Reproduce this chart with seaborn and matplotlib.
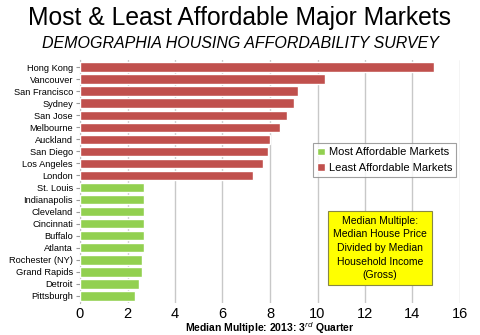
import matplotlib
matplotlib.use("Agg")
import matplotlib.pyplot as plt
import seaborn as sns
import pandas as pd

least_cities = ["Hong Kong", "Vancouver", "San Francisco", "Sydney", "San Jose",
                "Melbourne", "Auckland", "San Diego", "Los Angeles", "London"]
least_values = [14.9, 10.3, 9.2, 9.0, 8.7, 8.4, 8.0, 7.9, 7.7, 7.3]
most_cities = ["St. Louis", "Indianapolis", "Cleveland", "Cincinnati", "Buffalo",
               "Atlanta", "Rochester (NY)", "Grand Rapids", "Detroit", "Pittsburgh"]
most_values = [2.7, 2.7, 2.7, 2.7, 2.7, 2.7, 2.6, 2.6, 2.5, 2.3]
x_ticks = [0, 2, 4, 6, 8, 10, 12, 14, 16]

df = pd.DataFrame({
    "city": least_cities + most_cities,
    "value": least_values + most_values,
    "group": ["Least Affordable Markets"] * len(least_cities) + ["Most Affordable Markets"] * len(most_cities),
})

sns.set_style("white")
plt.rcParams["font.family"] = ["Liberation Sans", "DejaVu Sans"]
plt.rcParams["text.color"] = "black"
plt.rcParams["xtick.color"] = "black"
plt.rcParams["ytick.color"] = "black"
plt.rcParams["xtick.labelcolor"] = "black"
plt.rcParams["ytick.labelcolor"] = "black"

fig = plt.figure(figsize=(4.8, 3.35), dpi=100)
ax = fig.add_axes([80 / 480, 1 - 303 / 335, 380 / 480, 243 / 335])

palette = {"Most Affordable Markets": "#92D050", "Least Affordable Markets": "#C0504D"}
sns.barplot(data=df, x="value", y="city", hue="group", hue_order=["Most Affordable Markets", "Least Affordable Markets"],
            palette=palette, dodge=False, width=0.8, ax=ax, legend=True, saturation=1, zorder=3)

ax.set_xlim(0, 16)
ax.set_ylim(19.6, -0.6)
ax.set_xticks(x_ticks)
ax.set_xticklabels([str(t) for t in x_ticks], fontsize=10.5)
ax.tick_params(axis="x", length=0, pad=3)
ax.tick_params(axis="y", length=3, color="#999999", labelsize=6.7, pad=2, left=True)
ax.grid(axis="x", color="#C8C8C8", linewidth=1, zorder=0)
for s in ["top", "right"]:
    ax.spines[s].set_visible(False)
ax.spines["left"].set_color("#BBBBBB")
ax.spines["bottom"].set_visible(False)
ax.set_ylabel("")
ax.set_xlabel("")
fig.text(270 / 480, 1 - 328.5 / 335, "Median Multiple: 2013: 3$^{rd}$ Quarter", ha="center", va="center",
         fontsize=7.5, fontweight="bold")

leg = ax.legend(loc="upper left", bbox_to_anchor=(233 / 380, 1 - (143 - 60) / 243), fontsize=8,
                frameon=True, fancybox=False, edgecolor="#888888", handlelength=0.7, handleheight=0.7,
                handletextpad=0.3, borderpad=0.4, labelspacing=0.5, borderaxespad=0)
leg.get_frame().set_linewidth(0.8)
leg.set_zorder(10)

fig.text(380 / 480, 1 - 248 / 335, "Median Multiple:\nMedian House Price\nDivided by Median\nHousehold Income\n(Gross)",
         fontsize=7.5, ha="center", va="center", linespacing=1.45, zorder=10,
         bbox=dict(boxstyle="square,pad=0.45", facecolor="#FFFF00", edgecolor="#888844", linewidth=0.8))

fig.text(0.5, 1 - 18 / 335, "Most & Least Affordable Major Markets", ha="center", va="center", fontsize=17.7)
fig.text(0.5, 1 - 43 / 335, "DEMOGRAPHIA HOUSING AFFORDABILITY SURVEY", ha="center", va="center",
         fontsize=11.5, style="italic")

fig.savefig("out.png", dpi=100)
